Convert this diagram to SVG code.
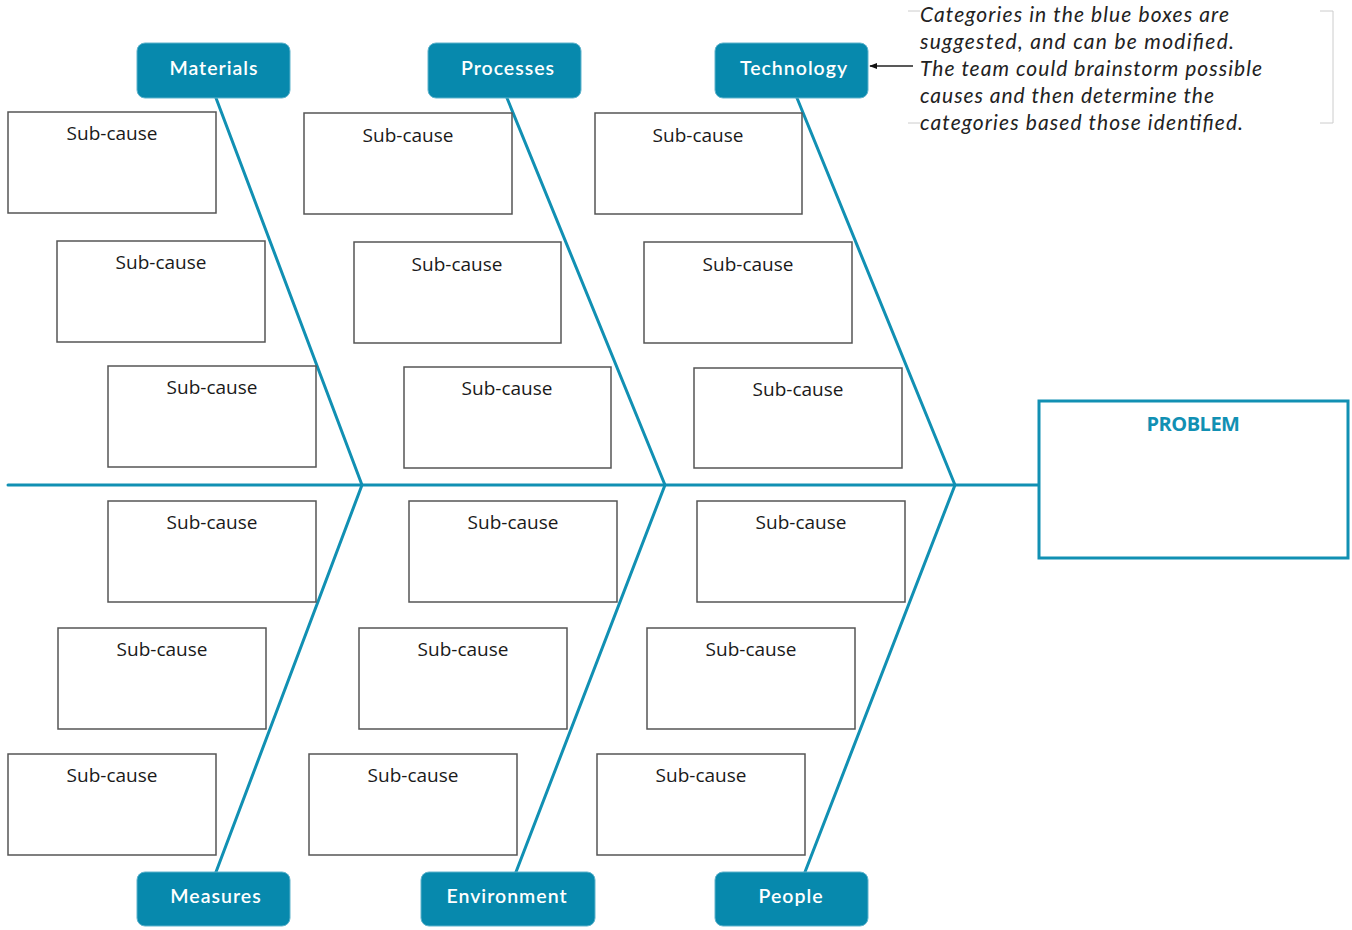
<svg xmlns="http://www.w3.org/2000/svg" width="1352" height="930" viewBox="0 0 1352 930">
<defs>
<style>
.bone{stroke:#1190b3;stroke-width:3;fill:none;stroke-linecap:round}
.sub rect{fill:#fff;stroke:#555;stroke-width:1.5}
.sub text{font-family:"Open Sans","Liberation Sans",sans-serif;font-size:19px;fill:#1a1a1a;text-anchor:middle}
.cat rect{fill:#0789ad;stroke:#5fb3cc;stroke-width:1}
.cat text{font-family:Lato,"Liberation Sans",sans-serif;font-size:19.5px;font-weight:600;fill:#fff;text-anchor:middle;letter-spacing:1px}
.note{font-family:Lato,"Liberation Sans",sans-serif;font-size:21px;font-style:italic;fill:#222}
</style>
<marker id="arr" viewBox="0 0 10 10" refX="9" refY="5" markerWidth="8" markerHeight="8" orient="auto" markerUnits="userSpaceOnUse">
<path d="M0,1 L10,5 L0,9 Z" fill="#111"/>
</marker>
</defs>
<rect width="1352" height="930" fill="#fff"/>

<g id="connectors">
<line class="bone" x1="8" y1="485" x2="1038" y2="485"/>
<line class="bone" x1="216" y1="98" x2="362" y2="485"/>
<line class="bone" x1="507" y1="98" x2="665" y2="485"/>
<line class="bone" x1="797" y1="98" x2="955" y2="485"/>
<line class="bone" x1="216" y1="872" x2="362" y2="485"/>
<line class="bone" x1="516" y1="872" x2="665" y2="485"/>
<line class="bone" x1="805" y1="872" x2="955" y2="485"/>
<line x1="913" y1="66" x2="870" y2="66" stroke="#222" stroke-width="1.5" marker-end="url(#arr)"/>
</g>

<g id="problem">
<rect x="1039" y="401" width="309" height="157" fill="#fff" stroke="#1190b3" stroke-width="3"/>
<text x="1193" y="431" font-family="'Open Sans','Liberation Sans',sans-serif" font-size="20" font-weight="bold" fill="#1190b3" text-anchor="middle" letter-spacing="-0.5">PROBLEM</text>
</g>

<g id="cat-materials" class="cat"><rect x="137" y="43" width="153" height="55" rx="8"/><text x="214" y="75">Materials</text></g>
<g id="cat-processes" class="cat"><rect x="428" y="43" width="153" height="55" rx="8"/><text x="508" y="75">Processes</text></g>
<g id="cat-technology" class="cat"><rect x="715" y="43" width="153" height="55" rx="8"/><text x="794" y="75">Technology</text></g>
<g id="cat-measures" class="cat"><rect x="137" y="872" width="153" height="54" rx="8"/><text x="216" y="903">Measures</text></g>
<g id="cat-environment" class="cat"><rect x="421" y="872" width="174" height="54" rx="8"/><text x="507" y="903">Environment</text></g>
<g id="cat-people" class="cat"><rect x="715" y="872" width="153" height="54" rx="8"/><text x="791" y="903">People</text></g>

<g id="sub-1" class="sub"><rect x="8" y="112" width="208" height="101"/><text x="112" y="140">Sub-cause</text></g>
<g id="sub-2" class="sub"><rect x="57" y="241" width="208" height="101"/><text x="161" y="269">Sub-cause</text></g>
<g id="sub-3" class="sub"><rect x="108" y="366" width="208" height="101"/><text x="212" y="394">Sub-cause</text></g>
<g id="sub-4" class="sub"><rect x="304" y="113" width="208" height="101"/><text x="408" y="142">Sub-cause</text></g>
<g id="sub-5" class="sub"><rect x="354" y="242" width="207" height="101"/><text x="457" y="271">Sub-cause</text></g>
<g id="sub-6" class="sub"><rect x="404" y="367" width="207" height="101"/><text x="507" y="395">Sub-cause</text></g>
<g id="sub-7" class="sub"><rect x="595" y="113" width="207" height="101"/><text x="698" y="142">Sub-cause</text></g>
<g id="sub-8" class="sub"><rect x="644" y="242" width="208" height="101"/><text x="748" y="271">Sub-cause</text></g>
<g id="sub-9" class="sub"><rect x="694" y="368" width="208" height="100"/><text x="798" y="396">Sub-cause</text></g>

<g id="sub-10" class="sub"><rect x="108" y="501" width="208" height="101"/><text x="212" y="529">Sub-cause</text></g>
<g id="sub-11" class="sub"><rect x="58" y="628" width="208" height="101"/><text x="162" y="656">Sub-cause</text></g>
<g id="sub-12" class="sub"><rect x="8" y="754" width="208" height="101"/><text x="112" y="782">Sub-cause</text></g>
<g id="sub-13" class="sub"><rect x="409" y="501" width="208" height="101"/><text x="513" y="529">Sub-cause</text></g>
<g id="sub-14" class="sub"><rect x="359" y="628" width="208" height="101"/><text x="463" y="656">Sub-cause</text></g>
<g id="sub-15" class="sub"><rect x="309" y="754" width="208" height="101"/><text x="413" y="782">Sub-cause</text></g>
<g id="sub-16" class="sub"><rect x="697" y="501" width="208" height="101"/><text x="801" y="529">Sub-cause</text></g>
<g id="sub-17" class="sub"><rect x="647" y="628" width="208" height="101"/><text x="751" y="656">Sub-cause</text></g>
<g id="sub-18" class="sub"><rect x="597" y="754" width="208" height="101"/><text x="701" y="782">Sub-cause</text></g>

<g id="note">
<path d="M908,11 H920 M908,123 H920 M1320,11 H1333 V123 H1320" fill="none" stroke="#ccc" stroke-width="1"/>
<text class="note" x="920" y="22" textLength="309" lengthAdjust="spacing">Categories in the blue boxes are</text>
<text class="note" x="920" y="49" textLength="314" lengthAdjust="spacing">suggested, and can be modified.</text>
<text class="note" x="920" y="76" textLength="342" lengthAdjust="spacing">The team could brainstorm possible</text>
<text class="note" x="920" y="103" textLength="294" lengthAdjust="spacing">causes and then determine the</text>
<text class="note" x="920" y="130" textLength="323" lengthAdjust="spacing">categories based those identified.</text>
</g>
</svg>
